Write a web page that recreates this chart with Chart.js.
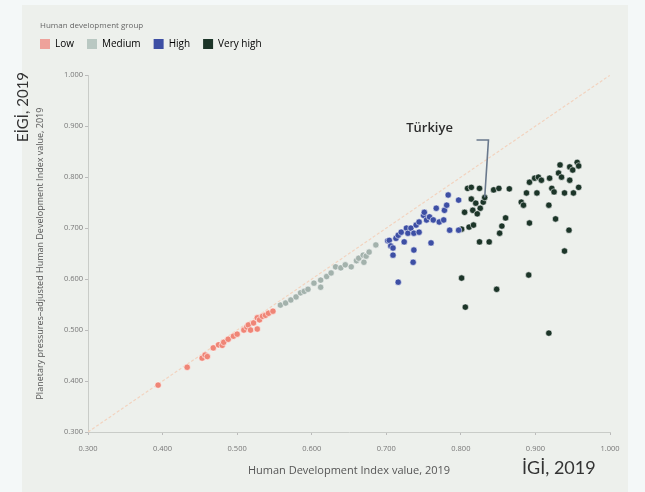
<!DOCTYPE html>
<html>
<head>
<meta charset="utf-8">
<script src="https://cdn.jsdelivr.net/npm/chart.js@4/dist/chart.umd.min.js"></script>
<style>
  html, body { margin: 0; padding: 0; background: #f4f8f8; width: 645px; height: 492px; overflow: hidden; }
  #panel { position: absolute; left: 22px; top: 5px; width: 606px; height: 487px; background: #edf0ec; }
  #c { position: absolute; left: 0; top: 0; }
</style>
</head>
<body>
<div id="panel"></div>
<canvas id="c" width="645" height="492"></canvas>
<script>
// ---- Data ----
const groupNames = ["Low", "Medium", "High", "Very high"];
const legendTitle = "Human development group";
const xAxisTitle = "Human Development Index value, 2019";
const yAxisTitle = "Planetary pressures\u2013adjusted Human Development Index value, 2019";
const tickValues = [0.3, 0.4, 0.5, 0.6, 0.7, 0.8, 0.9, 1.0];

const lowX = [0.394, 0.433, 0.453, 0.457, 0.460, 0.468, 0.475, 0.480, 0.482, 0.488, 0.495, 0.500, 0.509, 0.513, 0.515, 0.518, 0.522, 0.527, 0.527, 0.530, 0.534, 0.538, 0.542, 0.548];
const lowY = [0.392, 0.427, 0.445, 0.451, 0.448, 0.465, 0.471, 0.470, 0.476, 0.482, 0.488, 0.492, 0.500, 0.506, 0.510, 0.500, 0.514, 0.502, 0.524, 0.520, 0.527, 0.529, 0.533, 0.537];

const mediumX = [0.558, 0.565, 0.572, 0.579, 0.585, 0.590, 0.595, 0.603, 0.612, 0.612, 0.620, 0.626, 0.632, 0.639, 0.645, 0.653, 0.660, 0.663, 0.669, 0.670, 0.673, 0.677, 0.686];
const mediumY = [0.549, 0.553, 0.559, 0.565, 0.573, 0.576, 0.580, 0.592, 0.598, 0.584, 0.605, 0.612, 0.624, 0.622, 0.628, 0.624, 0.636, 0.641, 0.647, 0.633, 0.645, 0.653, 0.667];

const highX = [0.702, 0.704, 0.706, 0.709, 0.709, 0.713, 0.716, 0.716, 0.720, 0.724, 0.727, 0.729, 0.733, 0.736, 0.737, 0.737, 0.740, 0.744, 0.744, 0.750, 0.751, 0.754, 0.758, 0.760, 0.763, 0.767, 0.771, 0.777, 0.778, 0.781, 0.783, 0.785, 0.797, 0.797];
const highY = [0.675, 0.676, 0.665, 0.647, 0.661, 0.680, 0.686, 0.594, 0.692, 0.673, 0.700, 0.690, 0.700, 0.633, 0.690, 0.657, 0.706, 0.712, 0.692, 0.725, 0.731, 0.716, 0.722, 0.671, 0.716, 0.739, 0.712, 0.716, 0.735, 0.745, 0.765, 0.696, 0.755, 0.696];

const veryHighX = [0.809, 0.814, 0.825, 0.814, 0.820, 0.830, 0.832, 0.805, 0.816, 0.826, 0.822, 0.811, 0.817, 0.825, 0.838, 0.801, 0.844, 0.851, 0.865, 0.855, 0.852, 0.860, 0.881, 0.884, 0.888, 0.902, 0.892, 0.899, 0.904, 0.908, 0.919, 0.922, 0.925, 0.931, 0.933, 0.935, 0.939, 0.946, 0.946, 0.950, 0.951, 0.956, 0.958, 0.958, 0.918, 0.927, 0.892, 0.945, 0.939, 0.801, 0.806, 0.848, 0.891, 0.918];
const veryHighY = [0.778, 0.780, 0.778, 0.757, 0.749, 0.751, 0.760, 0.731, 0.735, 0.739, 0.728, 0.702, 0.706, 0.673, 0.673, 0.698, 0.775, 0.778, 0.777, 0.704, 0.690, 0.720, 0.751, 0.745, 0.769, 0.769, 0.790, 0.798, 0.800, 0.794, 0.798, 0.778, 0.771, 0.808, 0.824, 0.800, 0.769, 0.794, 0.820, 0.814, 0.769, 0.829, 0.822, 0.780, 0.745, 0.718, 0.710, 0.696, 0.655, 0.602, 0.545, 0.580, 0.608, 0.494];

const turkiyeLabel = "Türkiye";
const turkiyeLabelAt = [0.758, 0.896];
const turkiyeBracketX = [0.821, 0.837, 0.832];
const turkiyeBracketY = [0.873, 0.873, 0.760];
const diagonalX = [0.3, 1.0];
const diagonalY = [0.3, 1.0];
const yCornerLabel = "EİGİ, 2019";
const xCornerLabel = "İGİ, 2019";

// ---- Styles ----
const groupColors = ["#ef8576", "#a3b2ac", "#3d4fa4", "#1c3528"];
const legendSwatch = ["#eea29b", "#b9c8c2", "#3d4fa4", "#1c3528"];

const zip = (xs, ys) => xs.map((x, i) => ({ x: x, y: ys[i] }));
const groupData = [zip(lowX, lowY), zip(mediumX, mediumY), zip(highX, highY), zip(veryHighX, veryHighY)];

const datasets = groupNames.map((name, i) => ({
  type: 'scatter',
  label: name,
  data: groupData[i],
  backgroundColor: groupColors[i],
  borderColor: 'rgba(255,255,255,0.55)',
  borderWidth: 1,
  pointRadius: 3.2,
  order: 1
}));
datasets.push({
  type: 'line', label: '_diag', data: zip(diagonalX, diagonalY),
  borderColor: '#f2d3bf', borderWidth: 1.2, borderDash: [3, 2], pointRadius: 0, order: 5
});
datasets.push({
  type: 'line', label: '_bracket', data: zip(turkiyeBracketX, turkiyeBracketY),
  borderColor: '#69788c', borderWidth: 1.6, pointRadius: 0, tension: 0, order: 0
});

const FONT = "'Open Sans', 'DejaVu Sans', sans-serif";

const annotations = {
  id: 'annotations',
  afterDraw(chart) {
    const ctx = chart.ctx;
    const xs = chart.scales.x, ys = chart.scales.y;
    ctx.save();
    // legend title
    ctx.fillStyle = '#666';
    ctx.font = "8px " + FONT;
    ctx.textAlign = 'left';
    ctx.textBaseline = 'middle';
    ctx.fillText(legendTitle, 40, 26);
    // Türkiye label
    ctx.fillStyle = '#2d2d2d';
    ctx.font = "600 13px " + FONT;
    ctx.textAlign = 'center';
    ctx.fillText(turkiyeLabel, xs.getPixelForValue(turkiyeLabelAt[0]), ys.getPixelForValue(turkiyeLabelAt[1]));
    // corner labels
    ctx.fillStyle = '#333';
    ctx.font = "18px Lato, " + FONT;
    ctx.textAlign = 'left';
    ctx.fillText(xCornerLabel, 522, 468);
    ctx.font = "15px Lato, " + FONT;
    ctx.translate(23, 107);
    ctx.rotate(-Math.PI / 2);
    ctx.textAlign = 'center';
    ctx.fillText(yCornerLabel, 0, 0);
    ctx.restore();
  }
};

new Chart(document.getElementById('c'), {
  data: { datasets: datasets },
  options: {
    responsive: false,
    animation: false,
    layout: { padding: { left: 27, right: 35, top: 26, bottom: 10 } },
    plugins: {
      tooltip: { enabled: false },
      title: { display: true, text: ' ', weight: 500, font: { size: 1 }, padding: { top: 0, bottom: 15 } },
      legend: {
        position: 'top',
        align: 'start',
        labels: {
          boxWidth: 10, boxHeight: 10, padding: 13,
          color: '#555', font: { family: FONT, size: 10 },
          generateLabels: (chart) => groupNames.map((n, i) => ({
            text: n, fillStyle: legendSwatch[i], strokeStyle: legendSwatch[i], lineWidth: 0, datasetIndex: i, hidden: false
          }))
        }
      }
    },
    scales: {
      x: {
        type: 'linear', min: 0.3, max: 1.0,
        afterBuildTicks: (s) => { s.ticks = tickValues.map(v => ({ value: v })); },
        afterFit: (s) => { s.height = 50; },
        ticks: { callback: (v) => Number(v).toFixed(3), color: '#777', font: { family: FONT, size: 7.5 }, padding: 9, maxRotation: 0 },
        grid: { drawOnChartArea: false, tickLength: 3, tickColor: '#bbb' },
        border: { display: true, color: '#c9ccc8', width: 1 },
        title: { display: true, text: xAxisTitle, color: '#555', font: { family: FONT, size: 11 }, padding: { top: 4, bottom: 5 } }
      },
      y: {
        type: 'linear', min: 0.3, max: 1.0,
        afterBuildTicks: (s) => { s.ticks = tickValues.map(v => ({ value: v })); },
        afterFit: (s) => { s.width = 61; },
        ticks: { callback: (v) => Number(v).toFixed(3), color: '#777', font: { family: FONT, size: 7.5 }, padding: 2 },
        grid: { drawOnChartArea: false, tickLength: 3, tickColor: '#bbb' },
        border: { display: true, color: '#c9ccc8', width: 1 },
        title: { display: true, text: yAxisTitle, color: '#555', font: { family: FONT, size: 9 }, padding: { top: 8, bottom: 2 } }
      }
    }
  },
  plugins: [annotations]
});
</script>
</body>
</html>
